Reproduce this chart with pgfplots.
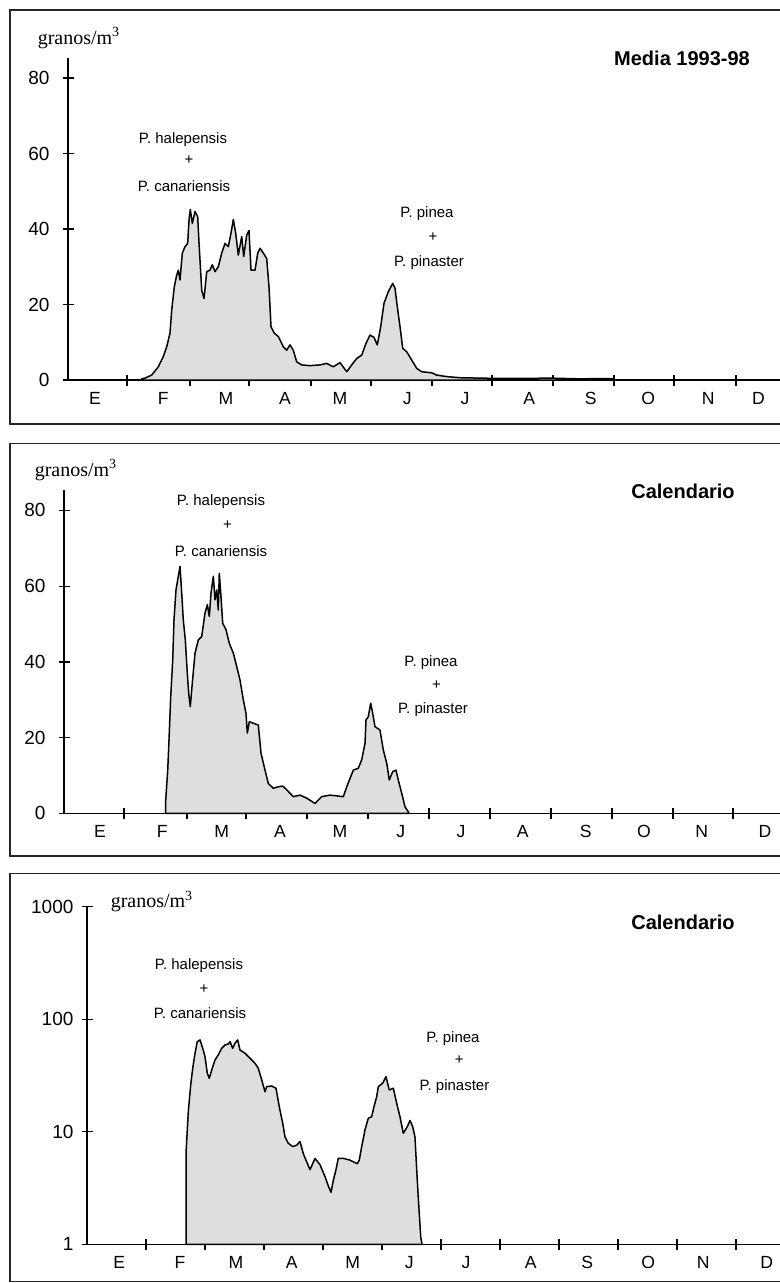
\documentclass[border=0pt]{standalone}
\usepackage{fontspec}
\setmainfont{Liberation Sans}
\newfontfamily\seriffont{Liberation Serif}
\usepackage{pgfplots}
\pgfplotsset{compat=1.18}

\pgfplotsset{
  panel/.style={
    scale only axis,
    axis x line=bottom, axis y line=left,
    axis line style={-, line width=0.65pt},
    tick align=center, major tick length=5.5pt,
    every tick/.style={line width=0.65pt, black},
    xmin=0,
    xticklabels={},
    extra x tick style={major tick length=0pt, tick label style={font=\fontsize{8.8}{9}\selectfont, yshift=-2.5pt}},
    extra x tick labels={E,F,M,A,M,J,J,A,S,O,N,D},
    /pgf/number format/assume math mode=true,
    clip=false,
  },
  curve/.style={draw=black, line width=0.75pt, fill=black!13, line join=round},
}
\newcommand{\ann}{\fontsize{7.5}{8}\selectfont}
\newcommand{\ttl}{\fontsize{10}{11}\selectfont\bfseries}
\newcommand{\gran}{\seriffont\fontsize{10}{11}\selectfont granos/m\textsuperscript{3}}

\begin{document}
\begin{tikzpicture}
\useasboundingbox (0,0) rectangle (390pt,-641.5pt);
\clip (0,0) rectangle (390pt,-641.5pt);

% frames
\draw[line width=0.75pt, black!85] (5pt,-5pt) rectangle (400pt,-212pt);
\draw[line width=0.75pt, black!85] (5pt,-221.65pt) rectangle (400pt,-428pt);
\draw[line width=0.75pt, black!85] (5pt,-436.65pt) rectangle (400pt,-640.8pt);

% ---------- Panel 1 ----------
\begin{axis}[panel,
  at={(34pt,-190pt)}, anchor=south west,
  width=356pt, height=161pt,
  xmax=11.672, ymin=0, ymax=85.3,
  xtick={0.967,2.0,2.967,3.984,4.967,5.967,6.951,7.951,8.951,9.934,10.951},
  extra x ticks={0.443,1.563,2.590,3.557,4.459,5.562,6.508,7.563,8.569,9.513,10.497,11.317},
  ytick={0,20,40,60,80},
  yticklabel style={font=\fontsize{9.5}{10}\selectfont, xshift=-3pt},
]
\addplot[curve] coordinates {
(1.208,0) (1.208,0.3) (1.262,0.5) (1.372,1.3) (1.480,3.5) (1.562,6.2) (1.618,8.8)
(1.672,12.4) (1.700,18.5) (1.743,24.7) (1.782,27.8) (1.808,29.1) (1.836,26.5)
(1.874,33.6) (1.918,35.3) (1.962,36.2) (1.984,42.4) (2.005,45.2) (2.038,41.5)
(2.082,44.6) (2.126,43.3) (2.148,36.2) (2.192,23.8) (2.230,21.6) (2.274,28.7)
(2.328,29.1) (2.366,30.5) (2.410,28.7) (2.464,30.0) (2.520,33.6) (2.574,36.2)
(2.628,35.3) (2.672,38.9) (2.710,42.5) (2.749,38.9) (2.792,33.1) (2.848,38.0)
(2.880,32.7) (2.930,38.4) (2.967,39.6) (3.000,29.1) (3.066,29.1) (3.110,33.6)
(3.148,34.9) (3.202,33.6) (3.257,32.2) (3.295,24.7) (3.328,14.1) (3.382,12.4)
(3.448,11.5) (3.503,9.7) (3.530,8.8) (3.585,7.9) (3.639,9.3) (3.693,7.9)
(3.749,4.8) (3.831,4.0) (3.967,3.8) (4.131,4.0) (4.241,4.4) (4.349,3.5)
(4.459,4.6) (4.569,2.2) (4.651,4.0) (4.733,5.7) (4.815,6.6) (4.885,9.7)
(4.951,11.9) (5.016,11.3) (5.070,9.3) (5.126,14.1) (5.180,20.3) (5.251,23.4)
(5.323,25.6) (5.361,24.3) (5.398,19.4) (5.443,14.1) (5.487,8.4) (5.552,7.5)
(5.634,5.3) (5.716,3.1) (5.798,2.2) (5.962,1.9) (6.044,1.3) (6.208,0.9)
(6.426,0.6) (6.754,0.5) (7.082,0.4) (7.410,0.4) (7.902,0.5) (8.393,0.3)
(8.721,0.4) (8.951,0.3) (8.960,0)
} \closedcycle;
\end{axis}
\node[anchor=center] at (39.5pt,-19pt) {\gran};
\node[anchor=center] at (341pt,-29pt) {\ttl Media 1993-98};
\node at (91.5pt,-69.7pt) {\ann P. halepensis};
\node at (94.5pt,-80.3pt) {\ann +};
\node at (92pt,-93pt) {\ann P. canariensis};
\node at (213.5pt,-107pt) {\ann P. pinea};
\node at (216.5pt,-118.5pt) {\ann +};
\node at (214.5pt,-131.5pt) {\ann P. pinaster};

% ---------- Panel 2 ----------
\begin{axis}[panel,
  at={(32pt,-406.65pt)}, anchor=south west,
  width=358pt, height=161.65pt,
  xmax=11.776, ymin=0, ymax=85.4,
  xtick={0.987,2.023,2.993,3.997,5.0,6.003,7.007,8.010,9.013,10.016,11.003},
  extra x ticks={0.592,1.617,2.594,3.553,4.539,5.538,6.530,7.544,8.581,9.539,10.488,11.53},
  ytick={0,20,40,60,80},
  yticklabel style={font=\fontsize{9.5}{10}\selectfont, xshift=-3pt},
]
\addplot[curve] coordinates {
(1.673,0) (1.673,3.5) (1.706,11.4) (1.727,19.4) (1.755,30.8) (1.788,40.5)
(1.809,51.1) (1.842,59.0) (1.880,62.6) (1.908,65.2) (1.936,58.2) (1.962,51.1)
(1.995,45.8) (2.028,37.0) (2.051,31.7) (2.077,28.2) (2.110,34.4) (2.155,42.3)
(2.209,45.8) (2.265,46.7) (2.319,52.9) (2.357,55.1) (2.390,52.0) (2.418,58.2)
(2.456,62.6) (2.484,56.4) (2.512,59.0) (2.538,53.7) (2.554,63.4) (2.582,57.3)
(2.610,50.2) (2.664,48.5) (2.719,44.9) (2.785,42.3) (2.840,38.8) (2.895,35.2)
(2.949,30.0) (2.993,26.4) (3.015,21.2) (3.048,24.2) (3.113,23.8) (3.196,23.3)
(3.240,15.9) (3.306,11.4) (3.360,7.9) (3.442,6.6) (3.525,7.0) (3.597,7.2)
(3.663,6.2) (3.771,4.4) (3.882,4.8) (3.992,4.0) (4.128,2.6) (4.238,4.4)
(4.375,4.8) (4.594,4.4) (4.650,7.0) (4.758,11.4) (4.840,11.9) (4.896,14.1)
(4.951,18.5) (4.967,24.7) (5.005,25.5) (5.044,29.1) (5.077,26.4) (5.115,22.9)
(5.197,22.0) (5.252,16.7) (5.308,13.2) (5.350,8.8) (5.406,11.0) (5.460,11.4)
(5.498,8.8) (5.554,5.3) (5.609,1.7) (5.663,0.4) (5.674,0)
} \closedcycle;
\end{axis}
\node[anchor=center] at (38pt,-235pt) {\gran};
\node[anchor=center] at (341.5pt,-245.5pt) {\ttl Calendario};
\node at (110.5pt,-250.8pt) {\ann P. halepensis};
\node at (113.8pt,-262.5pt) {\ann +};
\node at (110.5pt,-275.5pt) {\ann P. canariensis};
\node at (215.5pt,-331.3pt) {\ann P. pinea};
\node at (218.3pt,-342.8pt) {\ann +};
\node at (216.5pt,-354.7pt) {\ann P. pinaster};

% ---------- Panel 3 ----------
\begin{axis}[panel,
  at={(43.5pt,-622.15pt)}, anchor=south west,
  width=346.5pt, height=168.8pt,
  ymode=log, xmax=11.746, ymin=1, ymax=1000,
  xtick={1,2,3,4,5,6,7,8,9,10,11},
  extra x ticks={0.548,1.576,2.525,3.469,4.503,5.463,6.424,7.520,8.480,9.514,10.446,11.52},
  ytick={1,10,100,1000}, yticklabels={1,10,100,1000},
  yminorticks=false,
  yticklabel style={font=\fontsize{9.5}{10}\selectfont, xshift=-0.5pt},
]
\addplot[curve] coordinates {
(1.678,1) (1.678,6.4) (1.717,15.1) (1.758,26.1) (1.792,36.7) (1.831,49.9)
(1.869,63.2) (1.915,65.5) (1.961,55.2) (2.000,46.5) (2.039,33.1) (2.073,29.9)
(2.114,35.4) (2.169,43.4) (2.225,48.2) (2.283,55.2) (2.339,59.1) (2.395,60.3)
(2.424,63.2) (2.469,55.2) (2.508,61.2) (2.554,65.5) (2.593,53.3) (2.678,49.9)
(2.763,45.0) (2.847,40.6) (2.903,36.7) (2.961,28.9) (3.017,22.7) (3.046,25.2)
(3.131,25.5) (3.203,24.4) (3.259,16.7) (3.317,11.9) (3.356,9.0) (3.412,7.9)
(3.486,7.4) (3.554,7.6) (3.610,8.2) (3.666,6.4) (3.724,5.4) (3.780,4.6)
(3.864,5.8) (3.949,5.1) (4.034,4.0) (4.090,3.3) (4.136,2.9) (4.175,3.7)
(4.220,4.6) (4.259,5.8) (4.344,5.8) (4.458,5.6) (4.581,5.2) (4.615,5.6)
(4.656,7.4) (4.712,10.4) (4.768,13.2) (4.825,13.6) (4.864,16.7) (4.910,20.5)
(4.937,25.2) (5.012,27.0) (5.068,30.9) (5.124,23.5) (5.192,24.4) (5.249,17.9)
(5.305,13.6) (5.361,9.7) (5.429,11.1) (5.475,12.6) (5.520,11.1) (5.559,9.0)
(5.588,4.6) (5.615,2.6) (5.656,1.17) (5.678,1)
} \closedcycle;
\end{axis}
\node[anchor=center] at (76pt,-450.8pt) {\gran};
\node[anchor=center] at (341.5pt,-461.3pt) {\ttl Calendario};
\node at (99.5pt,-483pt) {\ann P. halepensis};
\node at (102pt,-494.6pt) {\ann +};
\node at (100pt,-506.6pt) {\ann P. canariensis};
\node at (226.5pt,-519.2pt) {\ann P. pinea};
\node at (229.6pt,-530.3pt) {\ann +};
\node at (227.2pt,-543.3pt) {\ann P. pinaster};
\end{tikzpicture}
\end{document}
